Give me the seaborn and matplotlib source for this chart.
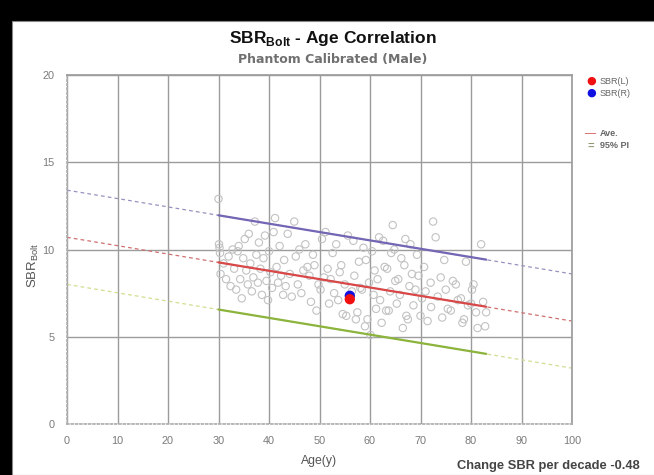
import matplotlib
matplotlib.use("Agg")
import matplotlib.pyplot as plt
import seaborn as sns
import pandas as pd
from matplotlib.patches import Rectangle

# ---------------- data ----------------
ages = [30.0, 30.1, 30.2, 30.3, 30.4, 31.0, 31.5, 32.0, 32.4, 32.8, 33.1, 33.5, 33.8,
        34.0, 34.3, 34.6, 34.9, 35.2, 35.5, 35.8, 36.0, 36.3, 36.6, 36.9, 37.2, 37.5, 37.8,
        38.0, 38.3, 38.6, 38.9, 39.2, 39.5, 39.8, 40.0, 40.3, 40.6, 40.9, 41.2, 41.5, 41.8,
        42.1, 42.4, 42.8, 43.0, 43.3, 43.7, 44.1, 44.5, 45.0, 45.3, 45.7, 46.0, 46.4, 46.8,
        47.2, 47.6, 48.0, 48.3, 48.7, 49.0, 49.4, 49.8, 50.2, 50.5, 50.9, 51.2, 51.6, 51.9,
        52.2, 52.6, 52.9, 53.3, 53.7, 54.0, 54.3, 54.6, 55.0, 55.3, 55.6, 56.4, 56.7, 56.9,
        57.2, 57.5, 57.8, 58.1, 58.4, 58.7, 59.0, 59.2, 59.5, 59.8, 60.1, 60.4, 60.7, 60.9,
        61.2, 61.5, 61.8, 62.0, 62.3, 62.6, 62.9, 63.2, 63.4, 63.7, 64.0, 64.2, 64.5, 64.8,
        65.0, 65.3, 65.6, 65.9, 66.2, 66.5, 66.8, 67.0, 67.2, 67.5, 67.8, 68.0, 68.3, 68.6,
        69.0, 69.3, 69.6, 70.0, 70.3, 70.7, 71.0, 71.4, 72.0, 72.1, 72.5, 73.0, 73.4, 74.0,
        74.3, 74.7, 75.0, 75.4, 76.0, 76.4, 77.0, 77.4, 78.0, 78.3, 78.6, 79.0, 79.4, 80.0,
        80.2, 80.5, 81.0, 81.3, 82.0, 82.4, 82.8, 83.0]
sbr = [12.9, 10.3, 10.1, 9.8, 8.6, 9.2, 8.3, 9.6, 7.9, 10.0, 8.9, 7.7, 9.9,
       10.2, 8.3, 7.2, 9.5, 10.6, 8.8, 8.0, 10.9, 9.2, 7.6, 8.4, 11.6, 9.7, 8.1,
       10.4, 8.9, 7.4, 9.5, 10.8, 8.2, 7.1, 9.9, 8.7, 7.8, 11.0, 11.8, 9.0, 8.1,
       10.2, 8.5, 7.4, 9.4, 7.9, 10.9, 8.6, 7.3, 11.6, 9.6, 8.0, 10.0, 7.5, 8.8,
       10.3, 9.0, 8.5, 7.0, 9.7, 9.1, 6.5, 8.0, 7.7, 10.6, 8.4, 11.0, 8.9, 6.9,
       8.3, 9.8, 7.5, 10.3, 7.1, 8.7, 9.1, 6.3, 8.0, 6.2, 10.8, 7.6, 10.5, 8.5,
       6.0, 6.4, 9.3, 7.8, 7.7, 10.1, 5.6, 9.4, 6.0, 8.1, 5.1, 9.9, 7.4, 8.8,
       6.6, 8.3, 10.7, 7.1, 5.8, 10.5, 9.0, 6.5, 8.9, 6.5, 7.6, 9.8, 11.4, 10.0,
       8.2, 6.9, 8.3, 7.4, 9.5, 5.5, 9.1, 10.6, 6.2, 6.0, 7.9, 10.3, 8.6, 6.8,
       7.7, 9.7, 8.5, 6.2, 7.2, 9.0, 7.6, 5.9, 8.1, 6.7, 11.6, 10.7, 7.3, 8.4,
       6.1, 9.4, 7.7, 6.6, 6.5, 8.2, 8.0, 7.1, 7.2, 5.8, 6.0, 9.3, 6.8, 6.9,
       7.7, 8.0, 6.4, 5.5, 10.3, 7.0, 5.6, 6.4, 6.9, 6.4]
n = min(len(ages), len(sbr))
ages, sbr = ages[:n], sbr[:n]

subj_age = [56.0]
subj_L = [7.15]
subj_R = [7.35]

# regression / prediction-interval lines (endpoints)
full_age = [0, 100]
ave_full = [10.7, 5.9]
upper_full = [13.4, 8.6]
lower_full = [8.0, 3.2]
seg_age = [30, 83]
ave_seg = [9.26, 6.72]
upper_seg = [11.96, 9.42]
lower_seg = [6.56, 4.02]

xticks = [0, 10, 20, 30, 40, 50, 60, 70, 80, 90, 100]
yticks = [0, 5, 10, 15, 20]

# ---------------- style ----------------
sns.set_theme(style="white")
plt.rcParams['font.family'] = ['Liberation Sans', 'DejaVu Sans']
plt.rcParams['mathtext.fontset'] = 'custom'
plt.rcParams['mathtext.rm'] = 'Liberation Sans'
plt.rcParams['mathtext.bf'] = 'Liberation Sans:bold'

fig = plt.figure(figsize=(6.54, 4.75), dpi=100, facecolor='black')
fig.add_artist(Rectangle((12 / 654, 0), 1, 1 - 21 / 475, transform=fig.transFigure,
                         facecolor='white', edgecolor='#888888', lw=0.8, zorder=0))
ax = fig.add_axes([67 / 654, 1 - 424 / 475, (572 - 67) / 654, (424 - 75) / 475])
ax.set_facecolor('white')

ax.set_xlim(0, 100)
ax.set_ylim(0, 20)
ax.set_xticks(xticks)
ax.set_yticks(yticks)
ax.grid(True, color='#9c9c9c', lw=1.0)
ax.set_axisbelow(True)
for s in ['top', 'right']:
    ax.spines[s].set_color('#9c9c9c')
for s in ['left', 'bottom']:
    ax.spines[s].set_color('#b0b0b0')
    ax.spines[s].set_linestyle((0, (1, 1.5)))
ax.tick_params(axis='both', length=0, labelsize=7.8, colors='#7a7a7a', pad=9)

# scatter of control subjects
df = pd.DataFrame({'age': ages, 'sbr': sbr})
sns.scatterplot(data=df, x='age', y='sbr', ax=ax, s=28, facecolor='none',
                edgecolor='#c2c2c2', linewidth=0.8, zorder=2)

# dashed full-range lines
sns.lineplot(x=full_age, y=upper_full, ax=ax, color='#9a90c0', lw=0.9, linestyle='--', zorder=1)
sns.lineplot(x=full_age, y=ave_full, ax=ax, color='#d07070', lw=0.9, linestyle='--', zorder=1)
sns.lineplot(x=full_age, y=lower_full, ax=ax, color='#d4dc90', lw=0.9, linestyle='--', zorder=1)
for l in ax.lines:
    l.set_dashes((3, 2.5))

# solid segments
sns.lineplot(x=seg_age, y=upper_seg, ax=ax, color='#7466b4', lw=1.6, zorder=3)
sns.lineplot(x=seg_age, y=ave_seg, ax=ax, color='#d84848', lw=1.6, zorder=3)
sns.lineplot(x=seg_age, y=lower_seg, ax=ax, color='#8cb43c', lw=1.6, zorder=3)

# subject
sns.scatterplot(x=subj_age, y=subj_R, ax=ax, s=55, color='#1010e0', edgecolor='none', zorder=4)
sns.scatterplot(x=subj_age, y=subj_L, ax=ax, s=55, color='#f01010', edgecolor='none', zorder=5)

ax.set_xlabel('Age(y)', fontsize=8.8, color='#555555', labelpad=6)
ax.set_ylabel('')

# texts
fig.text(0.509, 1 - 38 / 475, r'SBR$_{\mathbf{Bolt}}$ - Age Correlation', ha='center', va='center',
         fontsize=12.5, fontweight='bold', color='#111111')
fig.text(0.509, 1 - 60 / 475, 'Phantom Calibrated (Male)', ha='center', va='center',
         fontsize=9, fontweight='bold', color='#707070', family='DejaVu Sans')
fig.text(33 / 654, 1 - 265 / 475, r'SBR$_{\rm Bolt}$', rotation=90, ha='center', va='center',
         fontsize=9.5, color='#555555')
fig.text(640 / 654, 1 - 466 / 475, 'Change SBR per decade -0.48', ha='right', va='center',
         fontsize=9.3, fontweight='bold', color='#444444')

# legend
fig.text(591 / 654, 1 - 81 / 475, '●', color='#f01010', fontsize=8, ha='center', va='center',
         family='DejaVu Sans')
fig.text(600 / 654, 1 - 81 / 475, 'SBR(L)', color='#666666', fontsize=6.5, va='center')
fig.text(591 / 654, 1 - 93 / 475, '●', color='#1010e0', fontsize=8, ha='center', va='center',
         family='DejaVu Sans')
fig.text(600 / 654, 1 - 93 / 475, 'SBR(R)', color='#666666', fontsize=6.5, va='center')
fig.text(591 / 654, 1 - 133 / 475, '—', color='#d84848', fontsize=8, ha='center', va='center')
fig.text(600 / 654, 1 - 133 / 475, 'Ave.', color='#666666', fontsize=6.5, va='center',
         fontweight='bold')
fig.text(591 / 654, 1 - 146 / 475, '=', color='#8c9a70', fontsize=8, ha='center', va='center',
         fontweight='bold')
fig.text(600 / 654, 1 - 146 / 475, '95% PI', color='#666666', fontsize=6.5, va='center',
         fontweight='bold')

fig.savefig('out.png', dpi=100, facecolor='black')
